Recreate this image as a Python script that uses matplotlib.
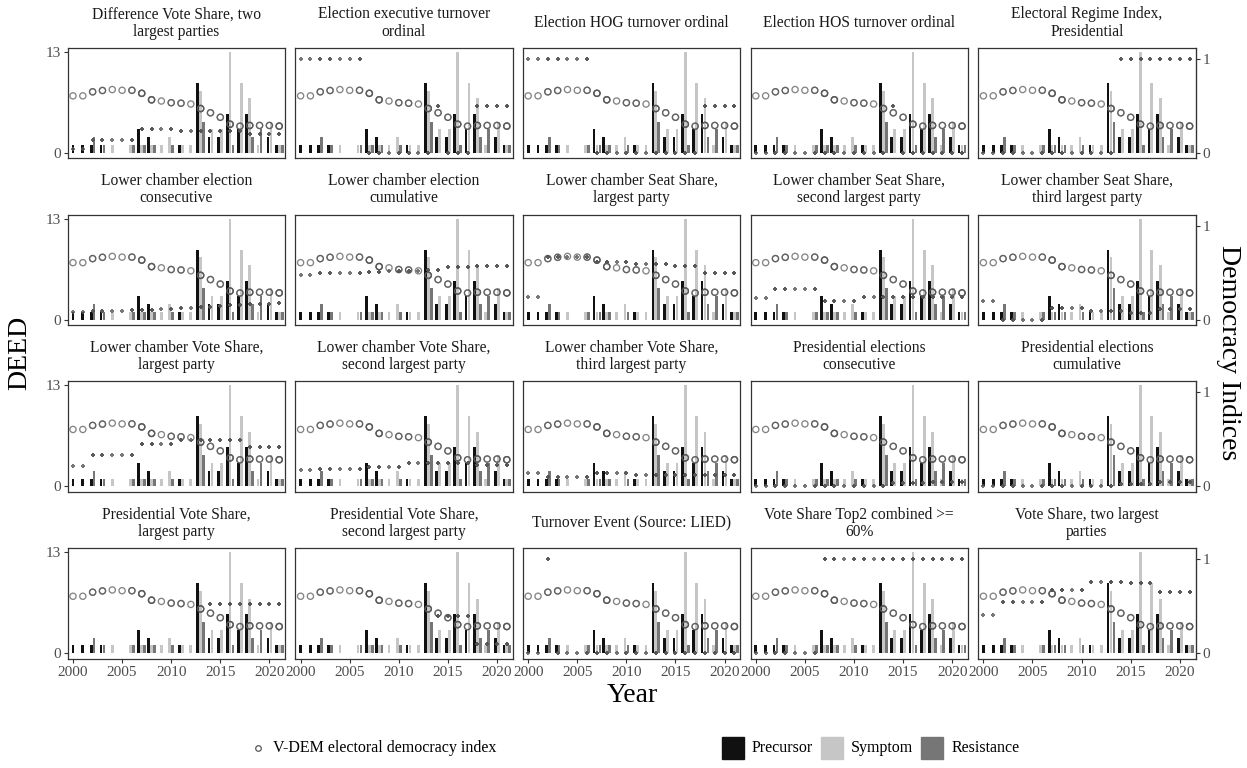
import numpy as np
import matplotlib
matplotlib.use("Agg")
import matplotlib.pyplot as plt
from matplotlib.patches import Rectangle
from matplotlib.lines import Line2D

plt.rcParams['font.family'] = ['Liberation Serif', 'DejaVu Serif']

# ---------------- data ----------------
years = list(range(2000, 2022))
precursor  = [1, 1, 1, 1, 0, 0, 0, 3, 2, 0, 0, 1, 0, 9, 2, 2, 5, 3, 5, 0, 2, 1]
symptom    = [0, 0, 0, 0, 1, 0, 1, 1, 1, 1, 2, 1, 1, 8, 3, 3, 13, 9, 7, 1, 4, 1]
resistance = [0, 0, 2, 1, 0, 0, 1, 1, 1, 0, 1, 0, 0, 4, 0, 0, 1, 0, 2, 3, 0, 1]

vdem = [0.605, 0.605, 0.648, 0.662, 0.672, 0.664, 0.664, 0.632, 0.563, 0.550, 0.532,
        0.527, 0.518, 0.470, 0.425, 0.377, 0.303, 0.282, 0.290, 0.290, 0.290, 0.283]

titles = [
    "Difference Vote Share, two\nlargest parties",
    "Election executive turnover\nordinal",
    "Election HOG turnover ordinal",
    "Election HOS turnover ordinal",
    "Electoral Regime Index,\nPresidential",
    "Lower chamber election\nconsecutive",
    "Lower chamber election\ncumulative",
    "Lower chamber Seat Share,\nlargest party",
    "Lower chamber Seat Share,\nsecond largest party",
    "Lower chamber Seat Share,\nthird largest party",
    "Lower chamber Vote Share,\nlargest party",
    "Lower chamber Vote Share,\nsecond largest party",
    "Lower chamber Vote Share,\nthird largest party",
    "Presidential elections\nconsecutive",
    "Presidential elections\ncumulative",
    "Presidential Vote Share,\nlargest party",
    "Presidential Vote Share,\nsecond largest party",
    "Turnover Event (Source: LIED)",
    "Vote Share Top2 combined >=\n60%",
    "Vote Share, two largest\nparties",
]

nan = float('nan')
diff_vote_share_top2 = [0.04, 0.04, 0.14, 0.14, 0.14, 0.14, 0.14, 0.25, 0.25, 0.25, 0.25,
                        0.23, 0.23, 0.23, 0.23, 0.23, 0.23, 0.23, 0.20, 0.20, 0.20, 0.20]
exec_turnover = [1, 1, 1, 1, 1, 1, 1, 0, 0, 0, 0, 0, 0, 0, 0.5, 0, 0, 0, 0.5, 0.5, 0.5, 0.5]
hog_turnover = [1, 1, 1, 1, 1, 1, 1, 0, 0, 0, 0, 0, 0, 0, 0, 0, 0, 0, 0.5, 0.5, 0.5, 0.5]
hos_turnover = [0, 0, 0, 0, 0, 0, 0, 0, 0, 0, 0, 0, 0, 0, 0.5, 0, 0, 0, 0, 0, 0, 0]
regime_index_pres = [0, 0, 0, 0, 0, 0, 0, 0, 0, 0, 0, 0, 0, 0, 1, 1, 1, 1, 1, 1, 1, 1]
lc_consecutive = [0.075, 0.075, 0.09, 0.095, 0.095, 0.095, 0.10, 0.10, 0.10, 0.11, 0.11,
                  0.125, 0.125, 0.13, 0.13, 0.145, 0.15, 0.15, 0.165, 0.165, 0.165, 0.175]
lc_cumulative = [0.475, 0.475, 0.493, 0.493, 0.493, 0.493, 0.493, 0.503, 0.507, 0.514, 0.517,
                 0.517, 0.517, 0.524, 0.524, 0.556, 0.556, 0.556, 0.573, 0.573, 0.573, 0.573]
lc_seat_1 = [0.24, 0.24, 0.66, 0.66, 0.66, 0.66, 0.66, 0.61, 0.61, 0.61, 0.61,
             0.59, 0.59, 0.59, 0.59, 0.566, 0.566, 0.566, 0.49, 0.49, 0.49, 0.49]
lc_seat_2 = [0.23, 0.23, 0.32, 0.32, 0.32, 0.32, 0.32, 0.20, 0.20, 0.20, 0.20,
             0.24, 0.24, 0.24, 0.24, 0.24, 0.24, 0.24, 0.24, 0.24, 0.24, 0.24]
lc_seat_3 = [0.20, 0.20, 0, 0, 0, 0, 0, 0.125, 0.125, 0.125, 0.125,
             0.093, 0.093, 0.093, 0.093, 0.072, 0.072, 0.072, 0.11, 0.11, 0.11, 0.11]
lc_vote_1 = [0.22, 0.22, 0.33, 0.33, 0.33, 0.33, 0.33, 0.455, 0.455, 0.455, 0.455,
             0.49, 0.49, 0.49, 0.49, 0.49, 0.49, 0.49, 0.417, 0.417, 0.417, 0.417]
lc_vote_2 = [0.17, 0.176, 0.187, 0.187, 0.187, 0.187, 0.187, 0.205, 0.205, 0.205, 0.205,
             0.25, 0.25, 0.25, 0.25, 0.243, 0.243, 0.243, 0.222, 0.222, 0.222, 0.222]
lc_vote_3 = [0.145, 0.145, 0.095, 0.095, 0.095, 0.095, 0.095, 0.138, 0.138, 0.138, 0.138,
             0.124, 0.124, 0.124, 0.124, 0.117, 0.117, 0.117, 0.117, 0.117, 0.117, 0.117]
pres_consecutive = [0, 0, 0, 0, 0, 0, 0, 0, 0, 0, 0, 0, 0, 0,
                    0.03, 0.03, 0.03, 0.03, 0.05, 0.05, 0.05, 0.05]
pres_cumulative = [0, 0, 0, 0, 0, 0, 0, 0, 0, 0, 0, 0, 0, 0,
                   0.025, 0.025, 0.025, 0.025, 0.046, 0.046, 0.046, 0.046]
pres_vote_1 = [nan, nan, nan, nan, nan, nan, nan, nan, nan, nan, nan, nan, nan, nan,
               0.527, 0.527, 0.527, 0.527, 0.527, 0.527, 0.527, 0.527]
pres_vote_2 = [nan, nan, nan, nan, nan, nan, nan, nan, nan, nan, nan, nan, nan, nan,
               0.39, 0.39, 0.39, 0.39, 0.096, 0.096, 0.096, 0.096]
turnover_lied = [0, 0, 1, 0, 0, 0, 0, 0, 0, 0, 0, 0, 0, 0, 0, 0, 0, 0, 0, 0, 0, 0]
top2_over_60 = [0, 0, 0, 0, 0, 0, 0, 1, 1, 1, 1, 1, 1, 1, 1, 1, 1, 1, 1, 1, 1, 1]
vote_share_top2 = [0.406, 0.406, 0.541, 0.541, 0.541, 0.541, 0.541, 0.672, 0.672, 0.672, 0.672,
                   0.758, 0.758, 0.758, 0.758, 0.75, 0.75, 0.75, 0.655, 0.655, 0.655, 0.655]

indices = [diff_vote_share_top2, exec_turnover, hog_turnover, hos_turnover, regime_index_pres,
           lc_consecutive, lc_cumulative, lc_seat_1, lc_seat_2, lc_seat_3,
           lc_vote_1, lc_vote_2, lc_vote_3, pres_consecutive, pres_cumulative,
           pres_vote_1, pres_vote_2, turnover_lied, top2_over_60, vote_share_top2]

# ---------------- style ----------------
W, H = 1247, 768
fig = plt.figure(figsize=(W / 100, H / 100), dpi=100)

K = 12.1            # secondary axis scale (index 1 -> DEED 12.1)
col_x0, col_step, pw = 67.7, 227.6, 217.4
row_y0, row_step, ph = 47.7, 166.8, 110.6

cat_names = ["Precursor", "Symptom", "Resistance"]
cat_colors = ["#111111", "#c6c6c6", "#767676"]
cat_vals = [precursor, symptom, resistance]
bw = 0.3
tick_grey = "#4d4d4d"
frame_col = "#333333"

# bar positions (dodged, centred on year for present categories)
bar_x = {n: [] for n in cat_names}
bar_h = {n: [] for n in cat_names}
counts = []
for yi, yr in enumerate(years):
    present = [(n, v[yi]) for n, v in zip(cat_names, cat_vals) if v[yi] > 0]
    k = len(present)
    counts.append(max(1, k))
    for j, (n, v) in enumerate(present):
        bar_x[n].append(yr + (j - (k - 1) / 2) * bw)
        bar_h[n].append(v)

pt_x = np.repeat(years, counts)
vdem_y = np.repeat(np.array(vdem) * K, counts)

for i, (title, idx) in enumerate(zip(titles, indices)):
    r, c = divmod(i, 5)
    left = (col_x0 + c * col_step) / W
    bottom = 1 - (row_y0 + r * row_step + ph) / H
    ax = fig.add_axes([left, bottom, pw / W, ph / H])
    for n, col in zip(cat_names, cat_colors):
        ax.bar(bar_x[n], bar_h[n], width=bw * 0.92, color=col, linewidth=0, zorder=2)
    ax.scatter(pt_x, vdem_y, s=20, facecolors='none', edgecolors='#555555',
               linewidths=0.95, alpha=0.72, zorder=3)
    idx_y = np.repeat(np.array(idx, dtype=float) * K, counts)
    ax.scatter(pt_x, idx_y, s=10, marker='P', color='#555555', linewidths=0,
               alpha=0.8, zorder=4)

    ax.set_xlim(1999.46, 2021.6)
    ax.set_ylim(-0.72, 13.52)
    for sp in ax.spines.values():
        sp.set_color(frame_col)
        sp.set_linewidth(0.9)
    ax.tick_params(axis='both', colors=frame_col, labelcolor=tick_grey,
                   labelsize=11, length=3, width=0.8, pad=2)
    if c == 0:
        ax.set_yticks([0, 13])
    else:
        ax.set_yticks([])
    if r == 3:
        ax.set_xticks([2000, 2005, 2010, 2015, 2020])
    else:
        ax.set_xticks([])
    if c == 4:
        sec = ax.secondary_yaxis('right', functions=(lambda y: y / K, lambda y: y * K))
        sec.set_yticks([0, 1])
        sec.spines['right'].set_color(frame_col)
        sec.tick_params(colors=frame_col, labelcolor=tick_grey, labelsize=11,
                        length=3, width=0.8, pad=2)
    ax.text(0.5, 1 + 24.8 / ph, title, transform=ax.transAxes, ha='center',
            va='center', fontsize=11.2, linespacing=1.12, color='#1a1a1a')

# axis titles
fig.text(20 / W, 1 - 353 / H, "DEED", rotation=90, ha='center', va='center', fontsize=20)
fig.text(1228 / W, 1 - 353 / H, "Democracy Indices", rotation=270, ha='center',
         va='center', fontsize=20)
fig.text(632 / W, 1 - 695 / H, "Year", ha='center', va='center', fontsize=20)

# legend
ly = 1 - 748 / H
leg_fs = 11.5
fig.add_artist(Line2D([258 / W], [ly], marker='o', markersize=4, markerfacecolor='none',
                      markeredgecolor='#555555', markeredgewidth=0.9, transform=fig.transFigure))
fig.text(273 / W, ly, "V-DEM electoral democracy index", ha='left', va='center', fontsize=leg_fs)
renderer = fig.canvas.get_renderer()
sq = 22
x0 = 722
for n, col in zip(cat_names, cat_colors):
    fig.add_artist(Rectangle((x0 / W, ly - sq / 2 / H), sq / W, sq / H, color=col,
                             transform=fig.transFigure))
    t = fig.text((x0 + sq + 8) / W, ly, n, ha='left', va='center', fontsize=leg_fs)
    bb = t.get_window_extent(renderer=renderer)
    x0 = bb.x1 + 8

fig.savefig("out.png", dpi=100)
